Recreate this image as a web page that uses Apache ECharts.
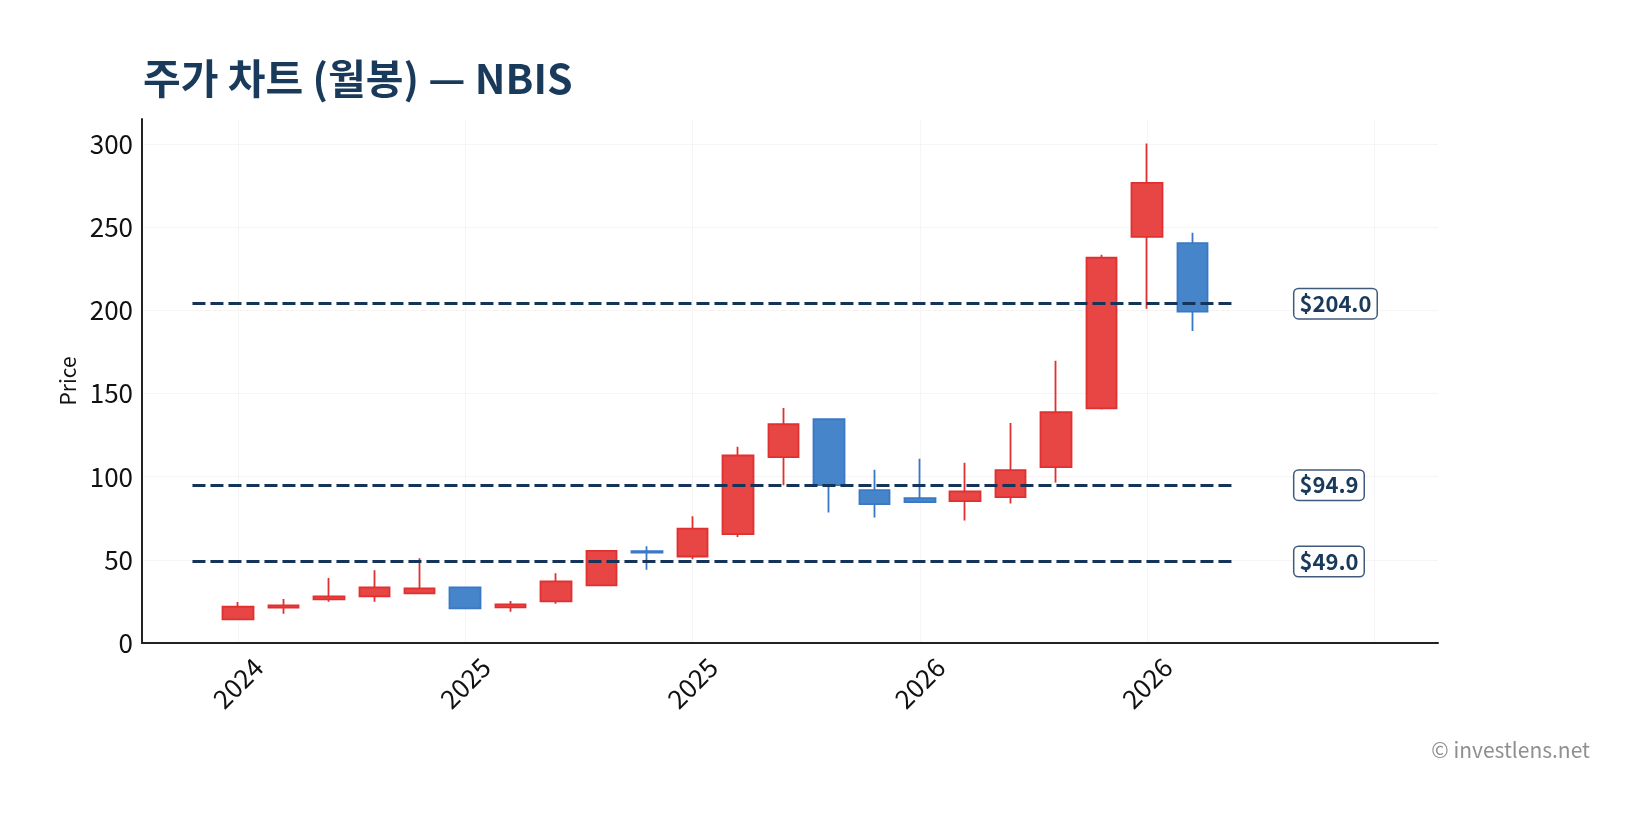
<!DOCTYPE html>
<html>
<head>
<meta charset="utf-8">
<script src="https://cdn.jsdelivr.net/npm/echarts@6/dist/echarts.min.js"></script>
<style>
  html, body { margin: 0; padding: 0; background: #fff; }
  #chart { width: 1651px; height: 828px; }
</style>
</head>
<body>
<div id="chart"></div>
<script>
// monthly candles, Korean colours: red = up, blue = down
const months = [
  '2024-10', '2024-11', '2024-12', '2025-01', '2025-02', '2025-03',
  '2025-04', '2025-05', '2025-06', '2025-07', '2025-08', '2025-09',
  '2025-10', '2025-11', '2025-12', '2026-01', '2026-02', '2026-03',
  '2026-04', '2026-05', '2026-06', '2026-07'
];
const opens  = [14.2, 21.3, 26.2, 28.0, 29.8, 33.4, 21.4, 25.0, 34.6, 55.2, 52.0, 65.5, 111.7, 134.5, 91.9, 87.1, 85.3, 87.7, 105.7, 141.1, 244.2, 240.4];
const closes = [21.8, 22.6, 28.0, 33.4, 32.8, 20.8, 23.2, 37.0, 55.4, 54.4, 68.8, 112.7, 131.5, 94.9, 83.5, 84.7, 91.1, 103.9, 138.7, 231.6, 276.6, 199.2];
const lows   = [14.2, 17.6, 24.8, 24.8, 29.8, 20.8, 18.8, 23.6, 34.4, 44.0, 50.4, 63.7, 94.9, 78.5, 75.5, 84.7, 73.7, 83.9, 96.5, 140.3, 201.0, 187.6];
const highs  = [24.6, 26.4, 39.0, 43.8, 51.0, 33.4, 25.2, 42.0, 55.6, 58.2, 76.2, 117.9, 141.3, 134.5, 104.1, 110.7, 108.3, 132.3, 169.6, 233.4, 300.2, 246.6];

// horizontal price levels
const levels = [204.0, 94.9, 49.0];

const FONT = '"Noto Sans CJK KR", "Noto Sans", sans-serif';
const NAVY = '#1a3a5c';

const myChart = echarts.init(document.getElementById('chart'));

const candleData = months.map(function (m, i) {
  return [i, opens[i], closes[i], lows[i], highs[i]];
});

const levelLines = levels.map(function (v) {
  return [
    { coord: [-1, v], label: { formatter: '$' + v.toFixed(1) } },
    { coord: [months.length - 0.1, v] }
  ];
});

const option = {
  animation: false,
  textStyle: { fontFamily: FONT },
  title: {
    text: '주가 차트 (월봉) — NBIS',
    left: 138,
    top: 53,
    textStyle: { fontFamily: FONT, fontSize: 41, fontWeight: 'bold', color: NAVY }
  },
  grid: {
    left: 142,
    top: 119,
    width: 1296,
    height: 524,
    containLabel: false,
    outerBoundsMode: 'none'
  },
  xAxis: {
    type: 'value',
    min: -2.11,
    max: 26.4,
    minInterval: 5,
    maxInterval: 5,
    axisLine: { show: true, onZero: false, lineStyle: { color: '#222', width: 2 } },
    axisTick: { show: false },
    splitLine: { show: true, showMinLine: false, showMaxLine: false, lineStyle: { color: '#f5f5f5', width: 1 } },
    axisLabel: {
      rotate: 45,
      align: 'center',
      verticalAlign: 'middle',
      margin: 40,
      fontSize: 26,
      color: '#111',
      formatter: function (v) {
        const i = Math.round(v);
        if (Math.abs(v - i) > 1e-6 || i % 5 !== 0 || i < 0 || i >= months.length) return '';
        return months[i].slice(0, 4);
      }
    }
  },
  yAxis: {
    type: 'value',
    min: 0,
    max: 315,
    interval: 50,
    name: 'Price',
    nameLocation: 'middle',
    nameGap: 62,
    nameTextStyle: { fontSize: 21, color: '#111' },
    axisLine: { show: true, onZero: false, lineStyle: { color: '#222', width: 2 } },
    axisTick: { show: false },
    splitLine: { show: true, showMaxLine: false, lineStyle: { color: '#f5f5f5', width: 1 } },
    axisLabel: { fontSize: 26, color: '#111', margin: 9, showMaxLabel: false }
  },
  series: [
    {
      type: 'candlestick',
      data: candleData,
      encode: { x: 0, y: [1, 2, 3, 4] },
      barWidth: 31,
      itemStyle: {
        color: '#e84545',
        color0: '#4785cb',
        borderColor: '#e03131',
        borderColor0: '#3a78c5',
        borderWidth: 1.8
      },
      markLine: {
        silent: true,
        symbol: ['none', 'none'],
        lineStyle: { color: '#15345a', width: 2.8, type: [13, 5] },
        label: {
          show: true,
          position: 'end',
          distance: 61,
          fontSize: 22,
          fontWeight: 'bold',
          color: NAVY,
          backgroundColor: '#fff',
          borderColor: '#3f5a7a',
          borderWidth: 1.5,
          borderRadius: 4,
          padding: [4, 5, 3, 5]
        },
        data: levelLines
      }
    }
  ],
  graphic: [
    {
      type: 'text',
      right: 61,
      top: 740,
      style: { text: '© investlens.net', fontSize: 21, fill: '#8f8f8f', fontFamily: FONT }
    }
  ]
};

myChart.setOption(option);
</script>
</body>
</html>
